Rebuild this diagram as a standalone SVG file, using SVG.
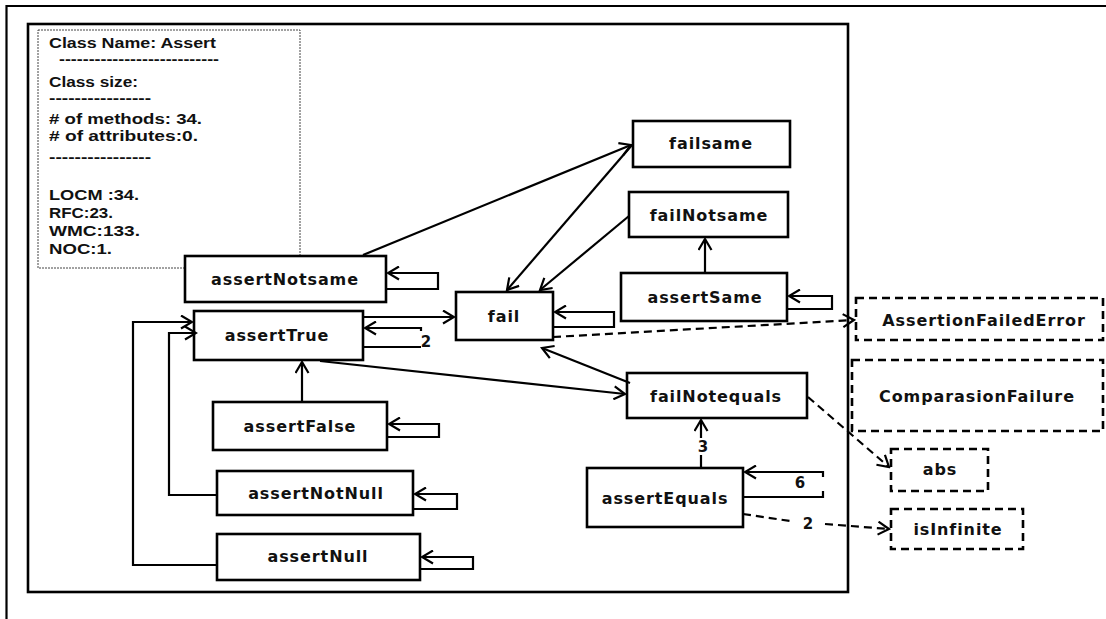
<svg xmlns="http://www.w3.org/2000/svg" width="1106" height="619" viewBox="0 0 1106 619">
  <style>
    .node { fill: #fff; stroke: #000; stroke-width: 2.6; }
    .ext { fill: #fff; stroke: #000; stroke-width: 2.6; stroke-dasharray: 8 5; }
    .lbl { font-family: "DejaVu Sans", Verdana, sans-serif; font-weight: bold; font-size: 16px; letter-spacing: 0.9px; text-anchor: middle; fill: #111; }
    .info { font-family: "Liberation Sans", Arial, sans-serif; font-weight: bold; font-size: 14px; fill: #111; }
    .edge { fill: none; stroke: #000; stroke-width: 2.2; }
    .dash { fill: none; stroke: #000; stroke-width: 2.2; stroke-dasharray: 8 5; }
    .num { font-family: "DejaVu Sans", Verdana, sans-serif; font-weight: bold; font-size: 15px; fill: #111; text-anchor: middle; }
  </style>
  <defs>
    <marker id="arr" markerWidth="14" markerHeight="15" refX="12" refY="7.5" orient="auto" markerUnits="userSpaceOnUse">
      <path d="M1,1 L12,7.5 L1,14" fill="none" stroke="#000" stroke-width="2.2"/>
    </marker>
  </defs>

  <rect width="1106" height="619" fill="#fff"/>

  <!-- outer and inner frames -->
  <path d="M1106,6 H6.5 V619" fill="none" stroke="#000" stroke-width="2.2"/>
  <rect x="28" y="24" width="820" height="568" fill="none" stroke="#000" stroke-width="2.6"/>

  <!-- class summary box -->
  <g id="class-info">
    <rect x="38" y="30" width="262" height="238" fill="#fff" stroke="#444" stroke-width="1" stroke-dasharray="2 1"/>
    <text class="info" x="49" y="48" textLength="167" lengthAdjust="spacingAndGlyphs">Class Name: Assert</text>
    <text class="info" x="59" y="64" textLength="160" lengthAdjust="spacingAndGlyphs">---------------------------</text>
    <text class="info" x="49" y="87" textLength="89" lengthAdjust="spacingAndGlyphs">Class size:</text>
    <text class="info" x="49" y="103" textLength="102" lengthAdjust="spacingAndGlyphs">----------------</text>
    <text class="info" x="49" y="124" textLength="153" lengthAdjust="spacingAndGlyphs"># of methods: 34.</text>
    <text class="info" x="49" y="141" textLength="149" lengthAdjust="spacingAndGlyphs"># of attributes:0.</text>
    <text class="info" x="49" y="162" textLength="102" lengthAdjust="spacingAndGlyphs">----------------</text>
    <text class="info" x="49" y="200" textLength="90" lengthAdjust="spacingAndGlyphs">LOCM :34.</text>
    <text class="info" x="49" y="218" textLength="64" lengthAdjust="spacingAndGlyphs">RFC:23.</text>
    <text class="info" x="49" y="236" textLength="91" lengthAdjust="spacingAndGlyphs">WMC:133.</text>
    <text class="info" x="49" y="254" textLength="63" lengthAdjust="spacingAndGlyphs">NOC:1.</text>
  </g>

  <!-- method nodes -->
  <g id="assertNotsame"><rect class="node" x="185" y="256" width="201" height="46"/><text class="lbl" x="285" y="285">assertNotsame</text></g>
  <g id="assertTrue"><rect class="node" x="194" y="311" width="169" height="49"/><text class="lbl" x="277" y="341">assertTrue</text></g>
  <g id="assertFalse"><rect class="node" x="213" y="402" width="174" height="48"/><text class="lbl" x="300" y="432">assertFalse</text></g>
  <g id="assertNotNull"><rect class="node" x="217" y="471" width="196" height="44"/><text class="lbl" x="316" y="499">assertNotNull</text></g>
  <g id="assertNull"><rect class="node" x="217" y="534" width="203" height="46"/><text class="lbl" x="318" y="562">assertNull</text></g>
  <g id="fail"><rect class="node" x="456" y="292" width="97" height="48"/><text class="lbl" x="504" y="322">fail</text></g>
  <g id="failsame"><rect class="node" x="633" y="121" width="157" height="46"/><text class="lbl" x="711" y="149">failsame</text></g>
  <g id="failNotsame"><rect class="node" x="629" y="192" width="159" height="45"/><text class="lbl" x="709" y="221">failNotsame</text></g>
  <g id="assertSame"><rect class="node" x="621" y="273" width="166" height="48"/><text class="lbl" x="705" y="303">assertSame</text></g>
  <g id="failNotequals"><rect class="node" x="627" y="373" width="180" height="45"/><text class="lbl" x="716" y="402">failNotequals</text></g>
  <g id="assertEquals"><rect class="node" x="587" y="468" width="156" height="59"/><text class="lbl" x="665" y="504">assertEquals</text></g>

  <!-- external classes / calls -->
  <g id="AssertionFailedError"><rect class="ext" x="856" y="298" width="247" height="42"/><text class="lbl" x="984" y="326">AssertionFailedError</text></g>
  <g id="ComparasionFailure"><rect class="ext" x="852" y="360" width="251" height="71"/><text class="lbl" x="977" y="402">ComparasionFailure</text></g>
  <g id="abs"><rect class="ext" x="891" y="449" width="97" height="42"/><text class="lbl" x="940" y="475">abs</text></g>
  <g id="isInfinite"><rect class="ext" x="891" y="509" width="132" height="40"/><text class="lbl" x="958" y="535">isInfinite</text></g>

  <!-- connectors -->
  <g id="connectors">
    <path class="edge" d="M363,255 L631,145" marker-end="url(#arr)"/>
    <path class="edge" d="M632,145 L507,290" marker-end="url(#arr)"/>
    <path class="edge" d="M629,216 L540,290" marker-end="url(#arr)"/>
    <path class="edge" d="M705,273 V239" marker-end="url(#arr)"/>
    <path class="edge" d="M787,309 H832 V296 H789" marker-end="url(#arr)"/>
    <path class="edge" d="M553,327 H614 V312 H555" marker-end="url(#arr)"/>
    <path class="dash" d="M553,337 L854,320" marker-end="url(#arr)"/>
    <path class="edge" d="M386,289 H438 V273 H388" marker-end="url(#arr)"/>
    <path class="edge" d="M363,317 H454" marker-end="url(#arr)"/>
    <path class="edge" d="M363,347 H421 M421,331 V328 H365" marker-end="url(#arr)"/>
    <text class="num" x="426" y="347">2</text>
    <path class="edge" d="M320,361 L625,394" marker-end="url(#arr)"/>
    <path class="edge" d="M630,383 L542,348" marker-end="url(#arr)"/>
    <path class="edge" d="M302,402 V362" marker-end="url(#arr)"/>
    <path class="edge" d="M387,437 H439 V424 H389" marker-end="url(#arr)"/>
    <path class="edge" d="M217,495 H169 V333 H196" marker-end="url(#arr)"/>
    <path class="edge" d="M217,565 H133 V322 H192" marker-end="url(#arr)"/>
    <path class="edge" d="M413,509 H457 V494 H415" marker-end="url(#arr)"/>
    <path class="edge" d="M420,569 H473 V557 H422" marker-end="url(#arr)"/>
    <path class="edge" d="M701,468 V455 M701,438 V420" marker-end="url(#arr)"/>
    <text class="num" x="703" y="452">3</text>
    <path class="edge" d="M743,497 H823 V491 M823,477 V472 H745" marker-end="url(#arr)"/>
    <text class="num" x="800" y="488">6</text>
    <path class="dash" d="M743,514 L790,521"/>
    <path class="dash" d="M825,524 L889,529" marker-end="url(#arr)"/>
    <text class="num" x="808" y="529">2</text>
    <path class="dash" d="M808,397 L889,467" marker-end="url(#arr)"/>
  </g>
</svg>
